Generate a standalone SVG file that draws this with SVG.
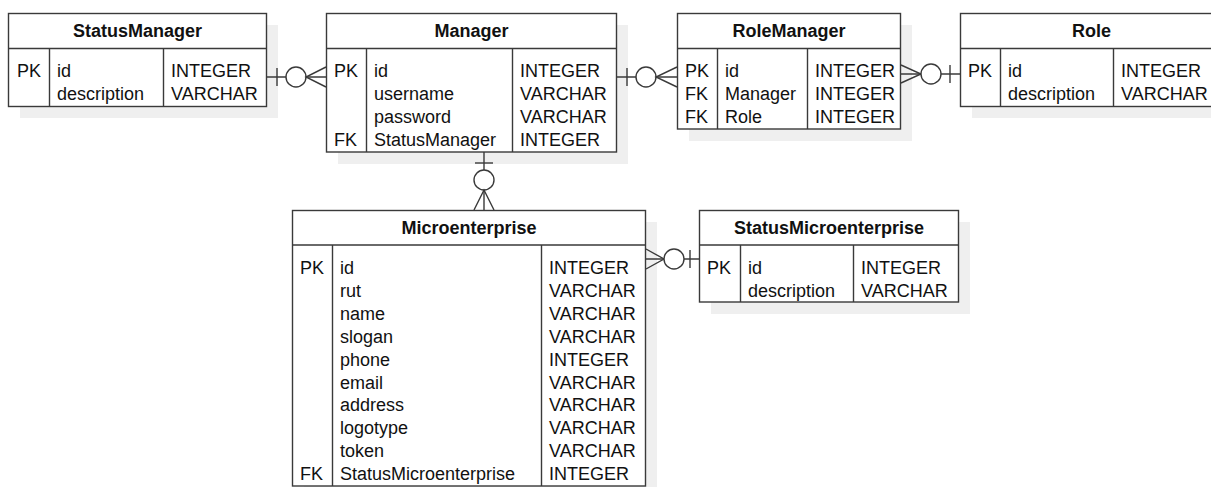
<svg xmlns="http://www.w3.org/2000/svg" width="1211" height="487" viewBox="0 0 1211 487">
  <style>
    .shadow { fill: #efefef; }
    .box { fill: #ffffff; stroke: #3a3a3a; stroke-width: 1.4; }
    .sep { stroke: #3a3a3a; stroke-width: 1.4; fill: none; }
    .title { font-family: "Liberation Sans", Arial, sans-serif; font-size: 18px; font-weight: bold; fill: #111; text-anchor: middle; }
    .cell { font-family: "Liberation Sans", Arial, sans-serif; font-size: 18px; fill: #111; }
    .rel { stroke: #3a3a3a; stroke-width: 1.4; fill: none; }
    .ring { stroke: #3a3a3a; stroke-width: 1.4; fill: #ffffff; }
  </style>

  <rect width="1211" height="487" fill="#ffffff"/>

  <!-- drop shadows behind the tables -->
  <g id="shadows">
    <rect class="shadow" x="20" y="25" width="258" height="93"/>
    <rect class="shadow" x="338" y="25" width="290" height="139"/>
    <rect class="shadow" x="689" y="25" width="223" height="116"/>
    <rect class="shadow" x="972" y="25" width="260" height="93"/>
    <rect class="shadow" x="304" y="222" width="353" height="276"/>
    <rect class="shadow" x="711" y="222" width="259" height="92"/>
  </g>

  <!-- relationships -->
  <g id="connectors">
    <!-- StatusManager 1 : 0..n Manager -->
    <line class="rel" x1="267" y1="77" x2="326" y2="77"/>
    <line class="rel" x1="277" y1="68" x2="277" y2="86"/>
    <circle class="ring" cx="296" cy="77" r="10"/>
    <path class="rel" d="M326,67 L306,77 L326,87"/>

    <!-- Manager 1 : 0..n RoleManager -->
    <line class="rel" x1="617" y1="77" x2="677" y2="77"/>
    <line class="rel" x1="627" y1="68" x2="627" y2="86"/>
    <circle class="ring" cx="646" cy="77" r="10"/>
    <path class="rel" d="M677,67 L656,77 L677,87"/>

    <!-- RoleManager 0..n : 1 Role -->
    <line class="rel" x1="901" y1="74" x2="960" y2="74"/>
    <path class="rel" d="M901,65 L921,74 L901,83"/>
    <circle class="ring" cx="931" cy="74" r="10"/>
    <line class="rel" x1="950" y1="65" x2="950" y2="83"/>

    <!-- Manager 1 : 0..n Microenterprise -->
    <line class="rel" x1="484" y1="152" x2="484" y2="210"/>
    <line class="rel" x1="475" y1="163" x2="493" y2="163"/>
    <circle class="ring" cx="484" cy="180" r="10"/>
    <path class="rel" d="M474,210 L484,190 L494,210"/>

    <!-- Microenterprise 0..n : 1 StatusMicroenterprise -->
    <line class="rel" x1="646" y1="259" x2="699" y2="259"/>
    <path class="rel" d="M646,249 L664,259 L646,269"/>
    <circle class="ring" cx="674" cy="259" r="10"/>
    <line class="rel" x1="690" y1="250" x2="690" y2="268"/>
  </g>

  <g id="StatusManager">
    <rect class="box" x="8.5" y="13.5" width="258" height="93"/>
    <path class="sep" d="M8.5,48.5 H266.5 M49.5,48.5 V106.5 M163.5,48.5 V106.5"/>
    <text class="title" x="137.5" y="37">StatusManager</text>
    <text class="cell" x="17" y="77">PK</text>
    <text class="cell" x="57" y="77">id</text>
    <text class="cell" x="57" y="100">description</text>
    <text class="cell" x="171" y="77">INTEGER</text>
    <text class="cell" x="171" y="100">VARCHAR</text>
  </g>

  <g id="Manager">
    <rect class="box" x="326.5" y="13.5" width="290" height="138.5"/>
    <path class="sep" d="M326.5,48.5 H616.5 M366.5,48.5 V152 M512.5,48.5 V152"/>
    <text class="title" x="471.5" y="37">Manager</text>
    <text class="cell" x="334" y="77">PK</text>
    <text class="cell" x="334" y="145.7">FK</text>
    <text class="cell" x="374" y="77">id</text>
    <text class="cell" x="374" y="99.9">username</text>
    <text class="cell" x="374" y="122.8">password</text>
    <text class="cell" x="374" y="145.7">StatusManager</text>
    <text class="cell" x="520" y="77">INTEGER</text>
    <text class="cell" x="520" y="99.9">VARCHAR</text>
    <text class="cell" x="520" y="122.8">VARCHAR</text>
    <text class="cell" x="520" y="145.7">INTEGER</text>
  </g>

  <g id="RoleManager">
    <rect class="box" x="677.5" y="13.5" width="223" height="115.5"/>
    <path class="sep" d="M677.5,48.5 H900.5 M717.5,48.5 V129 M807.5,48.5 V129"/>
    <text class="title" x="789" y="37">RoleManager</text>
    <text class="cell" x="685" y="77">PK</text>
    <text class="cell" x="685" y="99.9">FK</text>
    <text class="cell" x="685" y="122.8">FK</text>
    <text class="cell" x="725" y="77">id</text>
    <text class="cell" x="725" y="99.9">Manager</text>
    <text class="cell" x="725" y="122.8">Role</text>
    <text class="cell" x="815" y="77">INTEGER</text>
    <text class="cell" x="815" y="99.9">INTEGER</text>
    <text class="cell" x="815" y="122.8">INTEGER</text>
  </g>

  <g id="Role">
    <rect class="box" x="960.5" y="13.5" width="262" height="93"/>
    <path class="sep" d="M960.5,48.5 H1222.5 M1000.5,48.5 V106.5 M1113.5,48.5 V106.5"/>
    <text class="title" x="1091.5" y="37">Role</text>
    <text class="cell" x="968" y="77">PK</text>
    <text class="cell" x="1008" y="77">id</text>
    <text class="cell" x="1008" y="100">description</text>
    <text class="cell" x="1121" y="77">INTEGER</text>
    <text class="cell" x="1121" y="100">VARCHAR</text>
  </g>

  <g id="Microenterprise">
    <rect class="box" x="292.5" y="210.5" width="353" height="275.5"/>
    <path class="sep" d="M292.5,245 H645.5 M332.5,245 V486 M541.5,245 V486"/>
    <text class="title" x="469" y="234">Microenterprise</text>
    <text class="cell" x="300" y="274">PK</text>
    <text class="cell" x="300" y="480">FK</text>
    <text class="cell" x="340" y="274">id</text>
    <text class="cell" x="340" y="296.9">rut</text>
    <text class="cell" x="340" y="319.8">name</text>
    <text class="cell" x="340" y="342.7">slogan</text>
    <text class="cell" x="340" y="365.6">phone</text>
    <text class="cell" x="340" y="388.5">email</text>
    <text class="cell" x="340" y="411.4">address</text>
    <text class="cell" x="340" y="434.3">logotype</text>
    <text class="cell" x="340" y="457.2">token</text>
    <text class="cell" x="340" y="480">StatusMicroenterprise</text>
    <text class="cell" x="549" y="274">INTEGER</text>
    <text class="cell" x="549" y="296.9">VARCHAR</text>
    <text class="cell" x="549" y="319.8">VARCHAR</text>
    <text class="cell" x="549" y="342.7">VARCHAR</text>
    <text class="cell" x="549" y="365.6">INTEGER</text>
    <text class="cell" x="549" y="388.5">VARCHAR</text>
    <text class="cell" x="549" y="411.4">VARCHAR</text>
    <text class="cell" x="549" y="434.3">VARCHAR</text>
    <text class="cell" x="549" y="457.2">VARCHAR</text>
    <text class="cell" x="549" y="480">INTEGER</text>
  </g>

  <g id="StatusMicroenterprise">
    <rect class="box" x="699.5" y="210.5" width="259" height="91.5"/>
    <path class="sep" d="M699.5,245 H958.5 M740.5,245 V302 M853.5,245 V302"/>
    <text class="title" x="829" y="234">StatusMicroenterprise</text>
    <text class="cell" x="707" y="274">PK</text>
    <text class="cell" x="748" y="274">id</text>
    <text class="cell" x="748" y="296.9">description</text>
    <text class="cell" x="861" y="274">INTEGER</text>
    <text class="cell" x="861" y="296.9">VARCHAR</text>
  </g>
</svg>
